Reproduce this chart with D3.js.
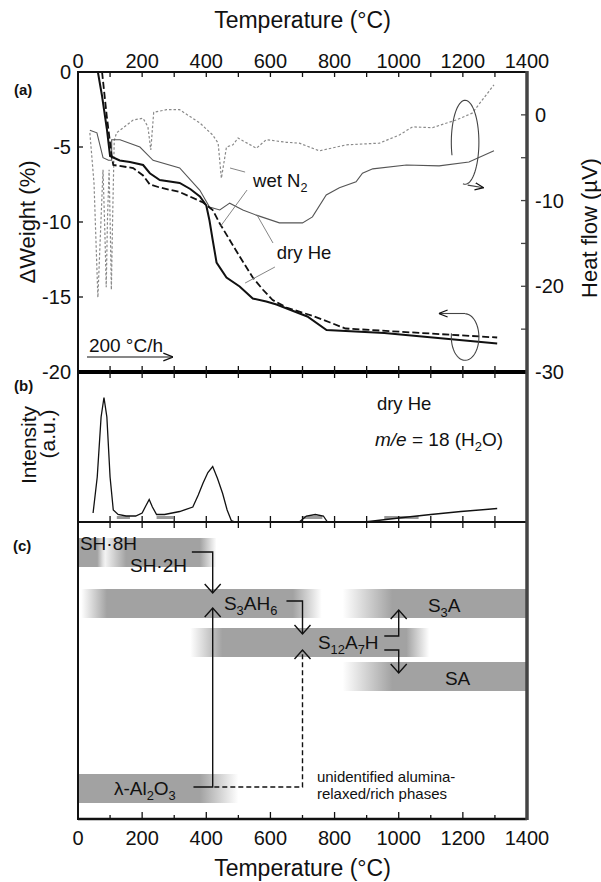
<!DOCTYPE html>
<html><head><meta charset="utf-8">
<script src="https://cdn.jsdelivr.net/npm/d3@7"></script>
<style>
body{margin:0;background:#fff}
svg{display:block}
text{font-family:"Liberation Sans",Arial,Helvetica,sans-serif;fill:#111}
</style>
</head><body>
<svg id="chart" width="601" height="882"></svg>
<script>
// ---------------- DATA ----------------
const temperatureTicks = [0,200,400,600,800,1000,1200,1400];
const temperatureMinor = [100,200,300,400,500,600,700,800,900,1000,1100,1200,1300];
const weightTicks = [0,-5,-10,-15,-20];
const heatTicks = [0,-10,-20,-30];
const heatMinorTicks = [-5,-15,-25];

// TG, dry He (solid) : [T, dWeight %]
const tgDryHe = [[62,0],[75,-1.6],[90,-3.8],[100,-5.6],[130,-5.9],[162,-6.0],[203,-6.2],[224,-6.75],[255,-7.2],[317,-7.4],[350,-7.8],[380,-8.3],[400,-8.9],[410,-9.9],[420,-11.2],[432,-12.7],[463,-13.7],[504,-14.3],[545,-15.1],[587,-15.3],[619,-15.5],[715,-16.3],[775,-17.2],[955,-17.4],[1307,-18.1]];
// TG, wet N2 (dashed)
const tgWetN2 = [[75,0],[90,-3.0],[105,-5.6],[110,-6.2],[172,-6.4],[203,-6.9],[224,-7.5],[255,-7.7],[317,-8.0],[390,-8.7],[420,-9.2],[442,-10.1],[473,-11.2],[504,-12.3],[545,-13.7],[576,-14.5],[607,-15.2],[650,-15.7],[737,-16.3],[786,-16.7],[834,-17.1],[1307,-17.7]];
// Heat flow, dry He (thin solid) : [T, µV]
const hfDryHe = [[37,-1.8],[59,-2.1],[78,-5.0],[95,-5.3],[105,-5.3],[105,-2.9],[131,-2.9],[193,-3.75],[234,-5.3],[317,-6.2],[380,-8.8],[410,-10.75],[442,-11.1],[473,-10.3],[514,-11.1],[556,-11.7],[628,-12.6],[700,-12.6],[731,-11.9],[774,-9.35],[815,-8.5],[867,-7.8],[887,-6.8],[919,-6.3],[1024,-5.85],[1126,-5.95],[1219,-5.5],[1297,-4.2]];
// Heat flow, wet N2 (dotted)
const hfWetN2 = [[37,-2.1],[50,-8],[62,-21.3],[72,-12],[78,-6.4],[84,-14],[88,-20.1],[92,-12],[97,-6.4],[101,-14],[104,-20.4],[108,-12],[113,-3],[120,-2.1],[172,-0.6],[203,-0.4],[218,-1.4],[227,-4.1],[236,0.3],[276,0.6],[317,0.6],[380,-0.95],[420,-2.35],[437,-3.3],[447,-7.4],[463,-3.75],[483,-3.5],[499,-2.7],[556,-3.9],[587,-2.9],[650,-3.2],[690,-3.3],[753,-4.2],[836,-3.5],[940,-3.3],[1002,-2.35],[1043,-1.4],[1105,-1.5],[1179,-0.6],[1229,0.2],[1297,3.5]];
// MS m/e = 18, dry He : [T, intensity a.u.]
const msWater = [[47,6],[60,30],[72,70],[81,83],[90,70],[100,30],[110,8],[125,5],[150,4],[180,4],[200,6],[212,11],[222,15],[232,10],[245,5],[270,5],[317,7],[358,10],[375,18],[390,26],[405,33],[420,37],[435,29],[451,19],[465,8],[478,1],[490,0],[690,0],[712,4],[740,5],[765,4],[778,0],[893,0],[1014,3],[1100,5],[1194,7],[1307,9]];
const msBaseSegments = [[121,162],[245,297],[700,762],[955,1062]];

// Phases (panel c)
const phaseNames    = ["SH·8H","SH·2H","S3AH6","S3A","S12A7H","SA","λ-Al2O3"];
const phaseRow      = [0,0,1,1,2,3,4];
const phaseStart    = [0,75,10,825,350,825,0];
const phaseFull     = [0,150,90,980,450,980,0];
const phaseFullEnd  = [60,380,670,1400,1024,1400,380];
const phaseEnd      = [85,432,760,1400,1095,1400,500];

// ---------------- LAYOUT ----------------
const svg = d3.select("#chart");
const L = 78, R = 527, TOP = 72, MID = 372, BMID = 522, BOT = 819;
const x = d3.scaleLinear().domain([0,1400]).range([L,R]);
const yW = d3.scaleLinear().domain([-20,0]).range([MID,TOP]);
const yH = d3.scaleLinear().domain([-30,5]).range([MID,TOP]);
const yI = d3.scaleLinear().domain([0,100]).range([BMID,MID]);
const rowTop = [538,589,628,662,774], rowH = 29;

const fs = 20;
const defs = svg.append("defs");

// -------- panel (c) bars --------
phaseNames.forEach((n,i)=>{
  const x0 = x(phaseStart[i]), x1 = x(phaseEnd[i]);
  const w = Math.max(1,x1-x0);
  const g = defs.append("linearGradient").attr("id","g"+i)
    .attr("gradientUnits","userSpaceOnUse").attr("x1",x0).attr("x2",x1).attr("y1",0).attr("y2",0);
  const stops = [[phaseStart[i],phaseStart[i]===phaseFull[i]?1:0],[phaseFull[i],1],[phaseFullEnd[i],1],[phaseEnd[i],phaseEnd[i]===phaseFullEnd[i]?1:0]];
  stops.forEach(s=>g.append("stop").attr("offset",(x(s[0])-x0)/w).attr("stop-color","#a2a2a2").attr("stop-opacity",s[1]));
  svg.append("rect").attr("x",x0).attr("y",rowTop[phaseRow[i]]).attr("width",w).attr("height",rowH).attr("fill","url(#g"+i+")");
});

// -------- panel (a) curves --------
const lineW = d3.line().x(d=>x(d[0])).y(d=>yW(d[1]));
const lineH = d3.line().x(d=>x(d[0])).y(d=>yH(d[1]));
const lineI = d3.line().x(d=>x(d[0])).y(d=>yI(d[1]));

svg.append("path").attr("d",lineH(hfWetN2)).attr("fill","none").attr("stroke","#8a8a8a").attr("stroke-width",1.2).attr("stroke-dasharray","2.5,2");
svg.append("path").attr("d",lineH(hfDryHe)).attr("fill","none").attr("stroke","#555").attr("stroke-width",1.1);
svg.append("path").attr("d",lineW(tgWetN2)).attr("fill","none").attr("stroke","#111").attr("stroke-width",1.8).attr("stroke-dasharray","7,3");
svg.append("path").attr("d",lineW(tgDryHe)).attr("fill","none").attr("stroke","#111").attr("stroke-width",2);

// pointer lines
const ptr = [[[521,-6.67],[474,-6.4]],[[527,-7.87],[443,-10.33]],[[608,-11.4],[558,-9.53]],[[614,-13.0],[521,-14.07]]];
ptr.forEach(p=>svg.append("path").attr("d",lineW(p)).attr("stroke","#777").attr("stroke-width",0.9).attr("fill","none"));

function sublabel(parent, xx, yy, parts, size, anchor){
  const t = parent.append("text").attr("x",xx).attr("y",yy).attr("font-size",size).attr("text-anchor",anchor||"start");
  parts.forEach(p=>{
    if (p.sub) t.append("tspan").attr("font-size",size*0.68).attr("dy",size*0.28).text(p.t);
    else t.append("tspan").attr("dy",p.back?-size*0.28:0).text(p.t);
  });
  return t;
}
sublabel(svg, x(546), 187, [{t:"wet N"},{t:"2",sub:true}], 18.5);
svg.append("text").attr("x",x(620)).attr("y",259).attr("font-size",18.5).text("dry He");
svg.append("text").attr("x",x(34)).attr("y",352).attr("font-size",19).text("200 °C/h");

// arrow marker
defs.append("marker").attr("id","ah").attr("viewBox","0 0 10 10").attr("refX",10).attr("refY",5)
  .attr("markerWidth",8).attr("markerHeight",8).attr("orient","auto-start-reverse")
  .append("path").attr("d","M0,1 L10,5 L0,9").attr("fill","none").attr("stroke","#111").attr("stroke-width",1.4);
svg.append("line").attr("x1",x(28)).attr("x2",x(296)).attr("y1",357).attr("y2",357).attr("stroke","#111").attr("stroke-width",1.2).attr("marker-end","url(#ah)");

// curl arrows
function ellipseArc(cT, cV, rT, rV, a0, a1, ys){
  const pts = d3.range(0,61).map(k=>{const a=a0+(a1-a0)*k/60; return [x(cT)+ (x(cT+rT)-x(cT))*Math.cos(a), ys(cV) - (ys(cV)-ys(cV+rV))*Math.sin(a)];});
  return d3.line()(pts);
}
svg.append("path").attr("d",ellipseArc(1207,-3.2,43,4.9,Math.PI*1.1,-Math.PI*0.55,yH)).attr("fill","none").attr("stroke","#444").attr("stroke-width",1.1);
svg.append("line").attr("x1",x(1215)).attr("x2",x(1265)).attr("y1",yH(-8.2)).attr("y2",yH(-8.5)).attr("stroke","#444").attr("stroke-width",1.1).attr("marker-end","url(#ah)");
svg.append("path").attr("d",ellipseArc(1207,-17.67,43,1.55,Math.PI*0.5,-Math.PI*1.05,yW)).attr("fill","none").attr("stroke","#444").attr("stroke-width",1.1);
svg.append("line").attr("x1",x(1207)).attr("x2",x(1125)).attr("y1",yW(-16.1)).attr("y2",yW(-16.1)).attr("stroke","#444").attr("stroke-width",1.1).attr("marker-end","url(#ah)");

// -------- panel (b) --------
msBaseSegments.forEach(s=>svg.append("line").attr("x1",x(s[0])).attr("x2",x(s[1])).attr("y1",yI(3)).attr("y2",yI(3)).attr("stroke","#999").attr("stroke-width",3));
svg.append("path").attr("d",lineI(msWater)).attr("fill","none").attr("stroke","#111").attr("stroke-width",1.3);
svg.append("text").attr("x",x(932)).attr("y",410).attr("font-size",18.5).text("dry He");
{
  const t = svg.append("text").attr("x",x(926)).attr("y",446).attr("font-size",19);
  t.append("tspan").attr("font-style","italic").text("m/e");
  t.append("tspan").text(" = 18 (H");
  t.append("tspan").attr("font-size",13).attr("dy",5).text("2");
  t.append("tspan").attr("dy",-5).text("O)");
}

// -------- panel (c) arrows --------
function vArrow(pts, dashed){
  const p = svg.append("path").attr("d",d3.line()(pts)).attr("fill","none").attr("stroke","#111").attr("stroke-width",1.4);
  if (dashed) p.attr("stroke-dasharray","5,3");
  const tip = pts[pts.length-1], prev = pts[pts.length-2];
  const dir = tip[1] > prev[1] ? -1 : 1;
  svg.append("path").attr("d",`M${tip[0]-8},${tip[1]+dir*9} L${tip[0]},${tip[1]} L${tip[0]+8},${tip[1]+dir*9}`).attr("fill","none").attr("stroke","#111").attr("stroke-width",1.4);
}
vArrow([[x(355),552],[x(420),552],[x(420),593]]);
vArrow([[x(360),787],[x(420),787],[x(420),608]]);
vArrow([[x(425),787],[x(700),787],[x(700),650]], true);
vArrow([[x(650),601],[x(700),601],[x(700),634]]);
vArrow([[x(955),636],[x(1000),636],[x(1000),610]]);
vArrow([[x(955),650],[x(1000),650],[x(1000),673]]);

// phase labels
const pf = 19;
sublabel(svg, x(6), 550, [{t:"SH·8H"}], pf);
sublabel(svg, x(162), 572, [{t:"SH·2H"}], pf);
sublabel(svg, x(455), 610, [{t:"S"},{t:"3",sub:true},{t:"AH",back:true},{t:"6",sub:true}], pf);
sublabel(svg, x(1091), 612, [{t:"S"},{t:"3",sub:true},{t:"A",back:true}], pf);
sublabel(svg, x(748), 649, [{t:"S"},{t:"12",sub:true},{t:"A",back:true},{t:"7",sub:true},{t:"H",back:true}], pf);
sublabel(svg, x(1144), 685, [{t:"SA"}], pf);
sublabel(svg, x(112), 795, [{t:"λ-Al"},{t:"2",sub:true},{t:"O",back:true},{t:"3",sub:true}], pf);
svg.append("text").attr("x",x(745)).attr("y",782).attr("font-size",15).attr("fill","#222").text("unidentified alumina-");
svg.append("text").attr("x",x(745)).attr("y",799).attr("font-size",15).attr("fill","#222").text("relaxed/rich phases");

// -------- axes frame --------
const ax = svg.append("g");
ax.append("line").attr("x1",L).attr("x2",R).attr("y1",TOP).attr("y2",TOP).attr("stroke","#111").attr("stroke-width",2);
ax.append("line").attr("x1",L).attr("x2",R).attr("y1",MID).attr("y2",MID).attr("stroke","#000").attr("stroke-width",4);
ax.append("line").attr("x1",L).attr("x2",R).attr("y1",BMID).attr("y2",BMID).attr("stroke","#111").attr("stroke-width",2);
ax.append("line").attr("x1",L).attr("x2",R).attr("y1",BOT).attr("y2",BOT).attr("stroke","#111").attr("stroke-width",2.5);
ax.append("line").attr("x1",L).attr("x2",L).attr("y1",TOP-1).attr("y2",BOT+1).attr("stroke","#111").attr("stroke-width",2);
ax.append("line").attr("x1",R).attr("x2",R).attr("y1",TOP-1).attr("y2",BOT+1).attr("stroke","#444").attr("stroke-width",3.5);

temperatureMinor.forEach(t=>{
  const big = t%200===0;
  ax.append("line").attr("x1",x(t)).attr("x2",x(t)).attr("y1",TOP).attr("y2",TOP+5).attr("stroke","#111").attr("stroke-width",1.3);
  ax.append("line").attr("x1",x(t)).attr("x2",x(t)).attr("y1",MID-6).attr("y2",MID+6).attr("stroke","#111").attr("stroke-width",1.3);
  ax.append("line").attr("x1",x(t)).attr("x2",x(t)).attr("y1",BMID-6).attr("y2",BMID+6).attr("stroke","#111").attr("stroke-width",1.3);
  ax.append("line").attr("x1",x(t)).attr("x2",x(t)).attr("y1",BOT).attr("y2",BOT-(big?7:4)).attr("stroke","#111").attr("stroke-width",1.3);
});
temperatureTicks.forEach(t=>{
  ax.append("text").attr("x",x(t)).attr("y",TOP-4).attr("text-anchor","middle").attr("font-size",fs).text(t);
  ax.append("text").attr("x",x(t)).attr("y",BOT+26).attr("text-anchor","middle").attr("font-size",fs).text(t);
});
weightTicks.forEach(v=>{
  if (v!==0 && v!==-20) ax.append("line").attr("x1",L).attr("x2",L+5).attr("y1",yW(v)).attr("y2",yW(v)).attr("stroke","#111").attr("stroke-width",1.3);
  ax.append("text").attr("x",L-7).attr("y",yW(v)+7).attr("text-anchor","end").attr("font-size",fs).text(v===0?"0":"-"+Math.abs(v));
});
heatTicks.concat(heatMinorTicks).forEach(v=>{
  if (v!==-30) ax.append("line").attr("x1",R-6).attr("x2",R).attr("y1",yH(v)).attr("y2",yH(v)).attr("stroke","#444").attr("stroke-width",1.3);
});
heatTicks.forEach(v=>{
  ax.append("text").attr("x",R+8).attr("y",yH(v)+7).attr("font-size",fs).text(v===0?"0":"-"+Math.abs(v));
});

// titles
svg.append("text").attr("x",(L+R)/2).attr("y",28).attr("text-anchor","middle").attr("font-size",23).text("Temperature (°C)");
svg.append("text").attr("x",(L+R)/2).attr("y",876).attr("text-anchor","middle").attr("font-size",23).text("Temperature (°C)");
svg.append("text").attr("transform",`translate(35,${(TOP+MID)/2}) rotate(-90)`).attr("text-anchor","middle").attr("font-size",22).text("ΔWeight (%)");
svg.append("text").attr("transform",`translate(597,${(TOP+MID)/2+6}) rotate(-90)`).attr("text-anchor","middle").attr("font-size",22).text("Heat flow (µV)");
svg.append("text").attr("transform",`translate(36,${445}) rotate(-90)`).attr("text-anchor","middle").attr("font-size",21).text("Intensity");
svg.append("text").attr("transform",`translate(55,${434}) rotate(-90)`).attr("text-anchor","middle").attr("font-size",21).text("(a.u.)");
svg.append("text").attr("x",14).attr("y",95).attr("font-size",15).attr("font-weight","bold").text("(a)");
svg.append("text").attr("x",14).attr("y",391).attr("font-size",15).attr("font-weight","bold").text("(b)");
svg.append("text").attr("x",13).attr("y",551).attr("font-size",15).attr("font-weight","bold").text("(c)");
</script>
</body></html>
